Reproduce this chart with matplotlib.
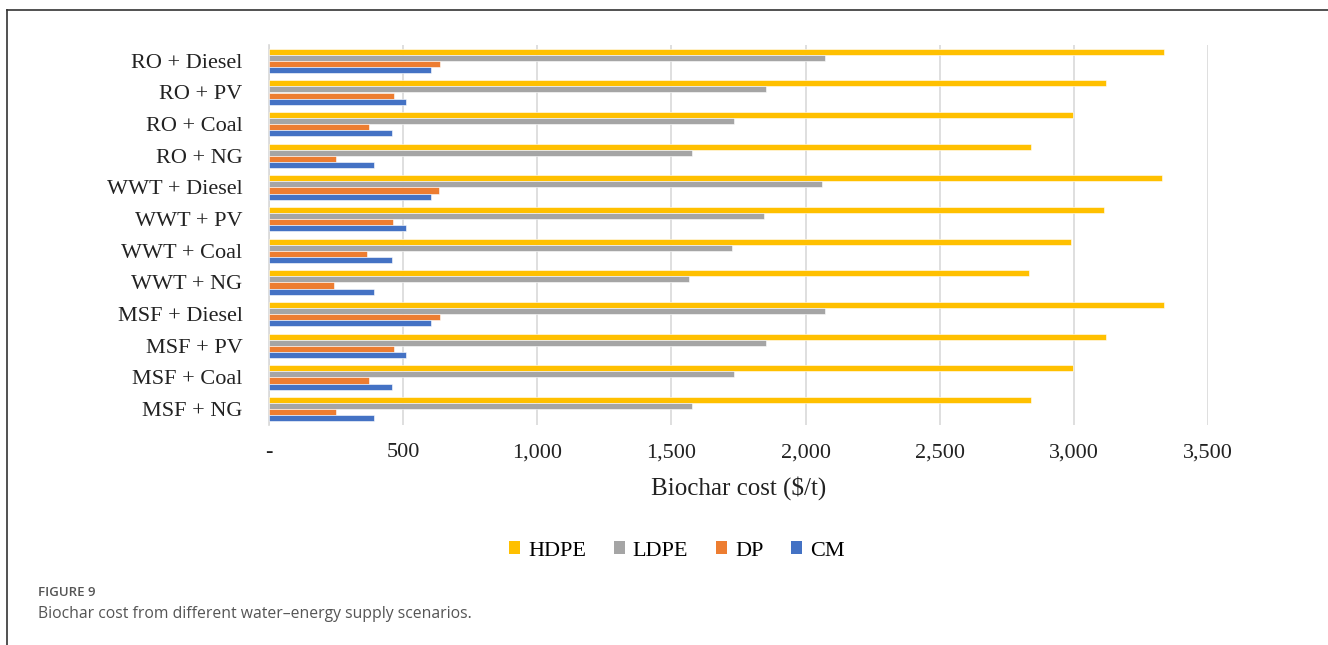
import matplotlib
matplotlib.use("Agg")
import matplotlib.pyplot as plt
from matplotlib.patches import Patch
from matplotlib.lines import Line2D
from matplotlib.ticker import FuncFormatter, MultipleLocator
import numpy as np

categories = ["RO + Diesel", "RO + PV", "RO + Coal", "RO + NG",
              "WWT + Diesel", "WWT + PV", "WWT + Coal", "WWT + NG",
              "MSF + Diesel", "MSF + PV", "MSF + Coal", "MSF + NG"]
series_names = ["HDPE", "LDPE", "DP", "CM"]
hdpe = [3336, 3118, 2997, 2840, 3328, 3111, 2990, 2832, 3336, 3118, 2997, 2840]
ldpe = [2071, 1853, 1734, 1575, 2063, 1846, 1724, 1567, 2071, 1853, 1734, 1575]
dp   = [638, 466, 371, 248, 634, 463, 367, 243, 638, 466, 371, 248]
cm   = [605, 511, 459, 392, 603, 510, 457, 390, 605, 511, 459, 392]
colors = ["#FFC000", "#A5A5A5", "#ED7D31", "#4472C4"]

fig = plt.figure(figsize=(13.28, 6.45), dpi=100)
ax = fig.add_axes([269/1328, 1-425/645, (1208-269)/1328, (425-45)/645])

n = len(categories)
ypos = np.arange(n)[::-1]  # top category at highest y
bh = 0.19
data = [hdpe, ldpe, dp, cm]
for i, (vals, c) in enumerate(zip(data, colors)):
    offs = (1.5 - i) * bh
    ax.barh(ypos + offs, vals, height=bh, color=c, edgecolor="white", linewidth=0.4, zorder=3)

ax.set_ylim(-0.5, n - 0.5)
ax.set_xlim(0, 3500)
ax.xaxis.set_major_locator(MultipleLocator(500))
ax.xaxis.set_major_formatter(FuncFormatter(lambda v, p: "-" if v == 0 else f"{int(v):,}"))
ax.set_yticks(ypos)
ax.set_yticklabels(categories, fontfamily="Liberation Serif", fontsize=16)
for lab in ax.get_xticklabels():
    lab.set_fontfamily("Liberation Serif")
    lab.set_fontsize(16)
ax.tick_params(axis="both", length=0, colors="#222222")
ax.tick_params(axis="y", pad=19)
ax.tick_params(axis="x", pad=13)
ax.grid(axis="x", color="#D9D9D9", linewidth=1.2, zorder=0)
for s in ["top", "right", "bottom"]:
    ax.spines[s].set_visible(False)
ax.spines["left"].set_color("#D9D9D9")
ax.spines["left"].set_linewidth(1.2)
ax.set_xlabel("Biochar cost ($/t)", fontfamily="Liberation Serif", fontsize=18, labelpad=10, color="#222222")

handles = [Patch(facecolor=c, edgecolor="none") for c in colors]
fig.legend(handles, series_names, loc="center", bbox_to_anchor=(677/1328, 1-551/645), ncol=4,
           frameon=False, prop={"family": "Liberation Serif", "size": 16},
           handlelength=0.5, handleheight=0.5, handletextpad=0.35, columnspacing=1.25)

# page frame lines
fig.add_artist(Line2D([7/1328, 1], [1-10/645, 1-10/645], transform=fig.transFigure, color="#333333", linewidth=1.2))
fig.add_artist(Line2D([7/1328, 7/1328], [0, 1-10/645], transform=fig.transFigure, color="#333333", linewidth=1.2))

fig.text(38/1328, 1-593/645, "FIGURE 9", fontfamily="Open Sans", fontweight="semibold", fontsize=9.5,
         color="#555555", va="center")
fig.text(38/1328, 1-614/645, "Biochar cost from different water\u2013energy supply scenarios.",
         fontfamily="Open Sans", fontsize=11.3, color="#555555", va="center")

fig.savefig("out.png", dpi=100)
